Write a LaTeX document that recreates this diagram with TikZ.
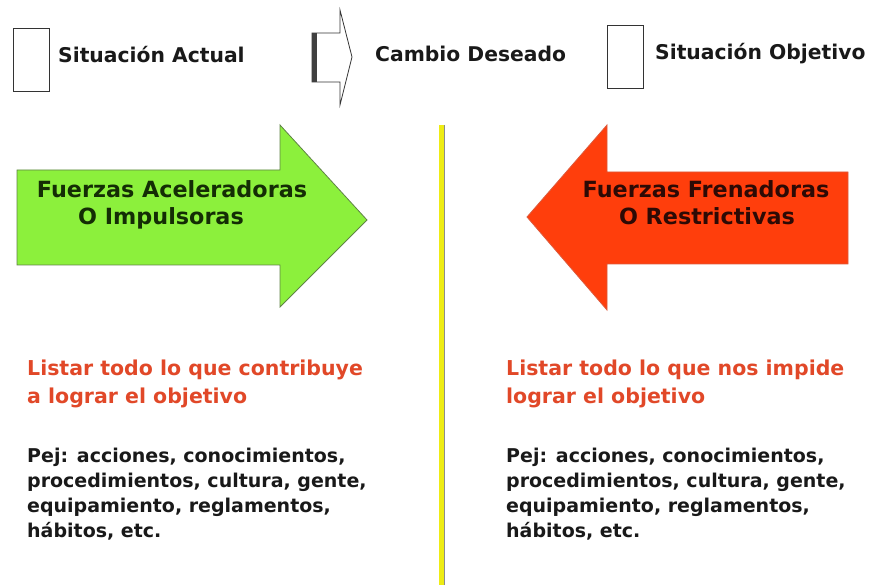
\documentclass[tikz,border=0pt]{standalone}
\usepackage{fontspec}
\setmainfont{DejaVu Sans}
\definecolor{lgreen}{RGB}{140,240,60}
\definecolor{gedge}{RGB}{95,130,70}
\definecolor{rfill}{RGB}{255,62,12}
\definecolor{redge}{RGB}{220,90,60}
\definecolor{gtext}{RGB}{20,45,5}
\definecolor{rtext}{RGB}{45,10,5}
\definecolor{ltext}{RGB}{225,72,40}
\definecolor{yline}{RGB}{238,236,20}
\tikzset{
  legbox/.style={draw=black!80, line width=0.9pt, minimum width=36pt, minimum height=63pt, anchor=north west, inner sep=0pt},
  legtext/.style={anchor=base west, inner sep=0pt, font=\fontsize{20.3}{24}\selectfont\bfseries, text=black!90},
  arrtext/.style={anchor=base, inner sep=0pt, font=\fontsize{22.3}{26}\selectfont\bfseries},
  listtext/.style={anchor=base west, inner sep=0pt, align=left, font=\fontsize{20.5}{27.5}\selectfont\bfseries, text=ltext},
  pejtext/.style={anchor=base west, inner sep=0pt, align=left, font=\fontsize{19}{24.7}\selectfont\bfseries, text=black!90},
}
\begin{document}
\begin{tikzpicture}[x=1pt,y=-1pt]
\useasboundingbox (0,0) rectangle (873,588);
% legend
\node[legbox] (boxA) at (13,28) {};
\node[legtext] (tA) at (58,63) {Situación Actual};
\draw[black!80, line width=0.8pt, line join=miter] (312,33) -- (340,33) -- (340,10) -- (352,57) -- (340,105) -- (340,82) -- (312,82) -- cycle;
\fill[black!75] (312,33) rectangle (316.5,82);
\node[legtext] (tC) at (375,62) {Cambio Deseado};
\node[legbox] (boxO) at (607,25) {};
\node[legtext] (tO) at (655,60) {Situación Objetivo};
% yellow divider
\fill[yline] (439,125) rectangle (444,585);
\draw[black!45, line width=0.6pt] (444,125) -- (444,585);
% green arrow
\draw[fill=lgreen, draw=gedge, line width=0.8pt] (17,170) -- (280,170) -- (280,125) -- (367,220) -- (280,307) -- (280,265) -- (17,265) -- cycle;
\node[arrtext, text=gtext] (g1) at (172,198) {Fuerzas Aceleradoras};
\node[arrtext, text=gtext] (g2) at (161,225) {O Impulsoras};
% red arrow
\draw[fill=rfill, draw=redge, line width=0.8pt] (848,172) -- (607,172) -- (607,125) -- (527,217) -- (607,310) -- (607,264) -- (848,264) -- cycle;
\node[arrtext, text=rtext] (r1) at (706,198) {Fuerzas Frenadoras};
\node[arrtext, text=rtext] (r2) at (707,225) {O Restrictivas};
% lists (base anchor = last line)
\node[listtext] (lL) at (27,403) {Listar todo lo que contribuye\\a lograr el objetivo};
\node[listtext] (lR) at (506,403) {Listar todo lo que nos impide\\lograr el objetivo};
\node[pejtext] (pL) at (27,537) {Pej: acciones, conocimientos,\\procedimientos, cultura, gente,\\equipamiento, reglamentos,\\hábitos, etc.};
\node[pejtext] (pR) at (506,537) {Pej: acciones, conocimientos,\\procedimientos, cultura, gente,\\equipamiento, reglamentos,\\hábitos, etc.};
\end{tikzpicture}
\end{document}
